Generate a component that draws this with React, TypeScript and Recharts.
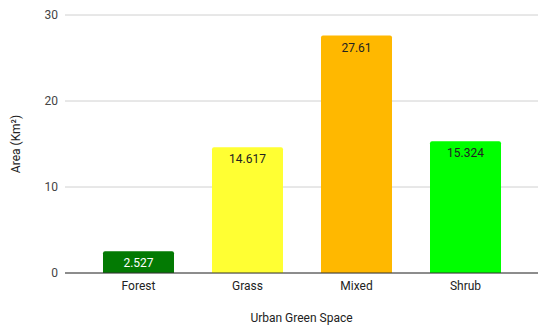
import React from "react";
import { BarChart, Bar, XAxis, YAxis, CartesianGrid, LabelList, Cell } from "recharts";

const categories = ["Forest", "Grass", "Mixed", "Shrub"];
const areaValues = [2.527, 14.617, 27.61, 15.324];
const barColors = ["#037a03", "#ffff33", "#ffb800", "#00ff00"];
const labelColors = ["#ffffff", "#222222", "#222222", "#222222"];
const yTicks = [0, 10, 20, 30];

const data = categories.map((c, i) => ({ name: c, value: areaValues[i] }));

const FONT = "Roboto, Arial, sans-serif";

export default function App() {
  return (
    <div style={{ position: "absolute", left: 0, top: 0, width: 550, height: 328, background: "#fff" }}>
      <BarChart
        width={550}
        height={328}
        data={data}
        margin={{ top: 15, right: 12, bottom: 0, left: 0 }}
        barCategoryGap={19}
      >
        <CartesianGrid vertical={false} stroke="#d0d0d0" />
        <XAxis
          dataKey="name"
          height={55}
          tickLine={false}
          axisLine={{ stroke: "#333333" }}
          padding={{ left: 19, right: 18 }}
          tick={{ fill: "#222222", fontSize: 12, fontFamily: FONT }}
          label={{ value: "Urban Green Space", position: "insideBottom", offset: 6, fill: "#222222", fontSize: 12, fontFamily: FONT }}
        />
        <YAxis
          width={65}
          domain={[0, 30]}
          ticks={yTicks}
          axisLine={false}
          tickLine={false}
          tickSize={0}
          tickMargin={7}
          tick={{ fill: "#444444", fontSize: 12, fontFamily: FONT }}
          label={{ value: "Area (Km²)", angle: -90, position: "insideLeft", offset: 16, style: { textAnchor: "middle" }, fill: "#222222", fontSize: 12, fontFamily: FONT }}
        />
        <Bar dataKey="value" isAnimationActive={false} radius={[2, 2, 0, 0]}>
          {data.map((d, i) => (
            <Cell key={d.name} fill={barColors[i]} />
          ))}
          <LabelList
            dataKey="value"
            position="insideTop"
            offset={6}
            content={(props: any) => {
              const { x, y, width, value, index } = props;
              return (
                <text
                  x={x + width / 2}
                  y={y + 6}
                  dy="0.85em"
                  textAnchor="middle"
                  fill={labelColors[index]}
                  fontSize={12}
                  fontFamily={FONT}
                >
                  {value}
                </text>
              );
            }}
          />
        </Bar>
      </BarChart>
    </div>
  );
}
